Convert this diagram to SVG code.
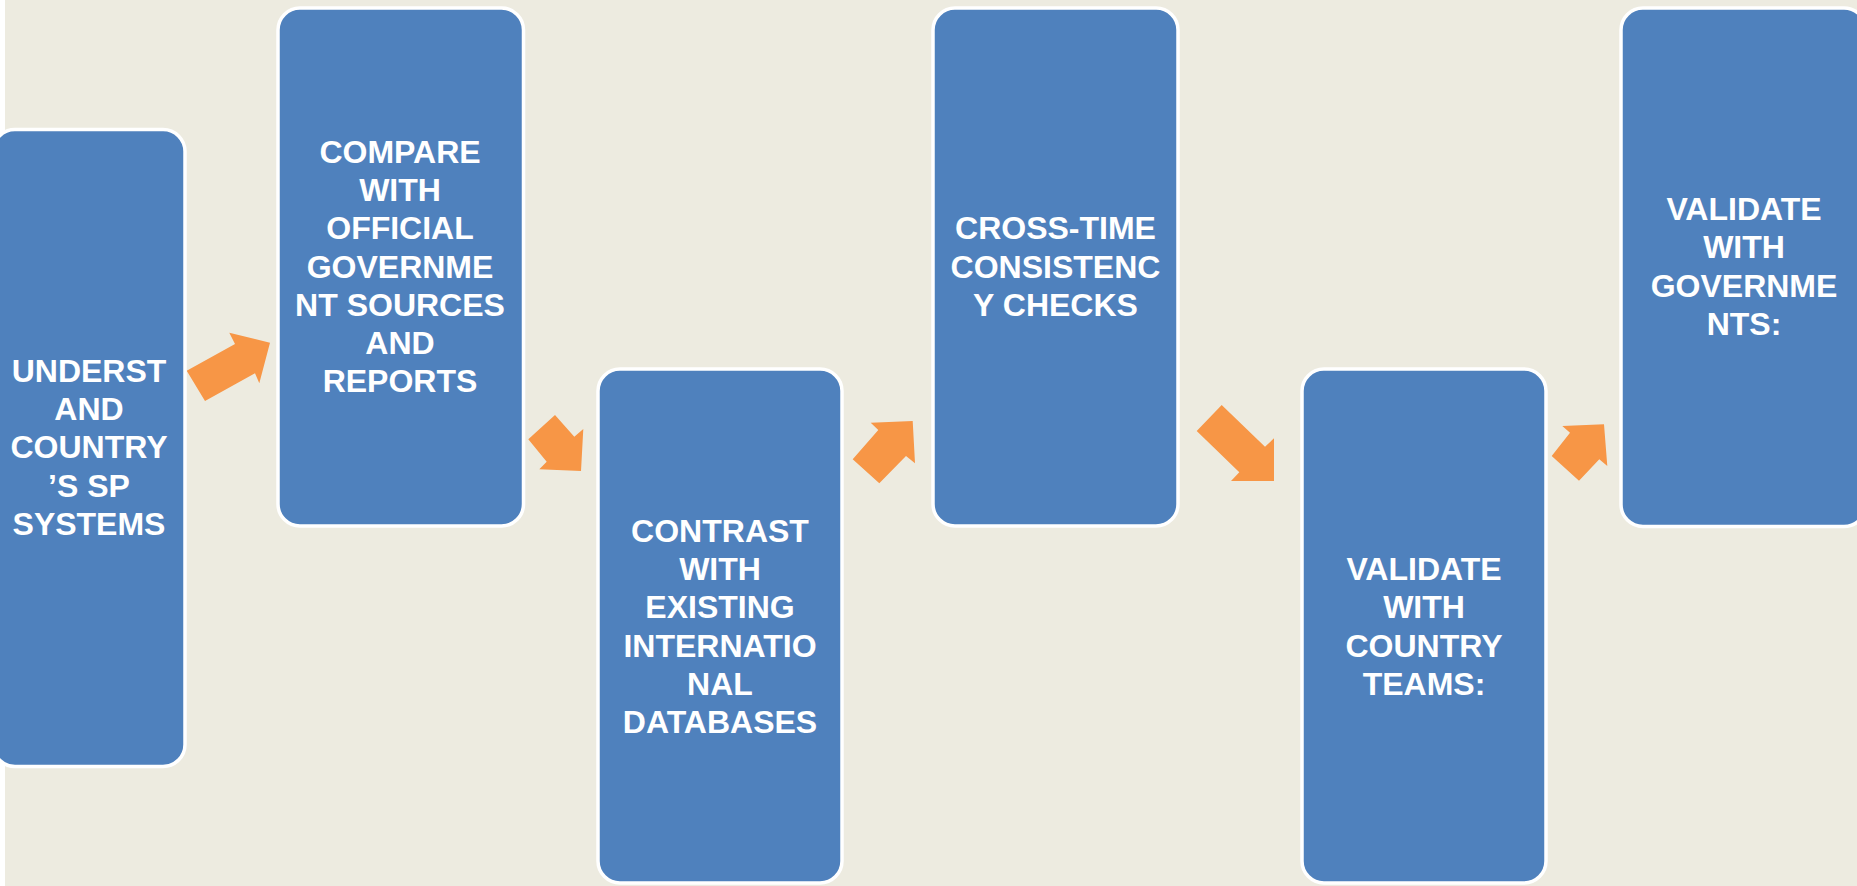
<svg xmlns="http://www.w3.org/2000/svg" width="1857" height="886" viewBox="0 0 1857 886">
<style>
.box{fill:#4F81BD;stroke:#FFFFFF;stroke-width:3.5}
.lbl{font-family:"Liberation Sans",Arial,sans-serif;font-weight:bold;font-size:32px;fill:#FFFFFF;text-anchor:middle}
.arr{fill:#F79646}
</style>
<rect x="0" y="0" width="1857" height="886" fill="#FFFFFF"/>
<rect x="5" y="0" width="1852" height="886" fill="#EDEBE0"/>
<g id="connectors">
<polygon class="arr" points="186.7,370.7 235,344 229.3,332.7 270,342.7 259.3,383.3 255,373.3 205,401"/>
<polygon class="arr" points="528.3,439.3 555,415 574.3,436.7 583.3,429 581,471 539.3,469.3 546.7,461.7"/>
<polygon class="arr" points="852.7,459.3 879.3,483.3 906,456 915,463.3 912.7,421 870.7,422.7 878.3,430"/>
<polygon class="arr" points="1221.7,405 1196.7,431 1239.3,472.3 1231,481 1274,481 1274,438.3 1265,446.7"/>
<polygon class="arr" points="1551.7,456 1579,480.7 1599.3,459.3 1607.3,466 1604,424.3 1562.3,426 1570,432.7"/>
</g>
<g id="node1">
<rect class="box" x="-7" y="129.5" width="192" height="637" rx="22"/>
<text class="lbl" x="89" y="382"><tspan x="89">UNDERST</tspan><tspan x="89" dy="38.2">AND</tspan><tspan x="89" dy="38.2">COUNTRY</tspan><tspan x="89" dy="38.2">’S SP</tspan><tspan x="89" dy="38.2">SYSTEMS</tspan></text>
</g>
<g id="node2">
<rect class="box" x="278" y="8" width="245.5" height="518" rx="22"/>
<text class="lbl" x="400" y="163"><tspan x="400">COMPARE</tspan><tspan x="400" dy="38.2">WITH</tspan><tspan x="400" dy="38.2">OFFICIAL</tspan><tspan x="400" dy="38.2">GOVERNME</tspan><tspan x="400" dy="38.2">NT SOURCES</tspan><tspan x="400" dy="38.2">AND</tspan><tspan x="400" dy="38.2">REPORTS</tspan></text>
</g>
<g id="node3">
<rect class="box" x="598" y="369" width="244" height="514" rx="22"/>
<text class="lbl" x="720" y="542"><tspan x="720">CONTRAST</tspan><tspan x="720" dy="38.2">WITH</tspan><tspan x="720" dy="38.2">EXISTING</tspan><tspan x="720" dy="38.2">INTERNATIO</tspan><tspan x="720" dy="38.2">NAL</tspan><tspan x="720" dy="38.2">DATABASES</tspan></text>
</g>
<g id="node4">
<rect class="box" x="933" y="8" width="245" height="518" rx="22"/>
<text class="lbl" x="1055.5" y="239.3"><tspan x="1055.5">CROSS-TIME</tspan><tspan x="1055.5" dy="38.2">CONSISTENC</tspan><tspan x="1055.5" dy="38.2">Y CHECKS</tspan></text>
</g>
<g id="node5">
<rect class="box" x="1302" y="369" width="244" height="514" rx="22"/>
<text class="lbl" x="1424" y="580.2"><tspan x="1424">VALIDATE</tspan><tspan x="1424" dy="38.2">WITH</tspan><tspan x="1424" dy="38.2">COUNTRY</tspan><tspan x="1424" dy="38.2">TEAMS:</tspan></text>
</g>
<g id="node6">
<rect class="box" x="1621" y="8" width="245" height="518.5" rx="22"/>
<text class="lbl" x="1744" y="220.2"><tspan x="1744">VALIDATE</tspan><tspan x="1744" dy="38.2">WITH</tspan><tspan x="1744" dy="38.2">GOVERNME</tspan><tspan x="1744" dy="38.2">NTS:</tspan></text>
</g>
</svg>
